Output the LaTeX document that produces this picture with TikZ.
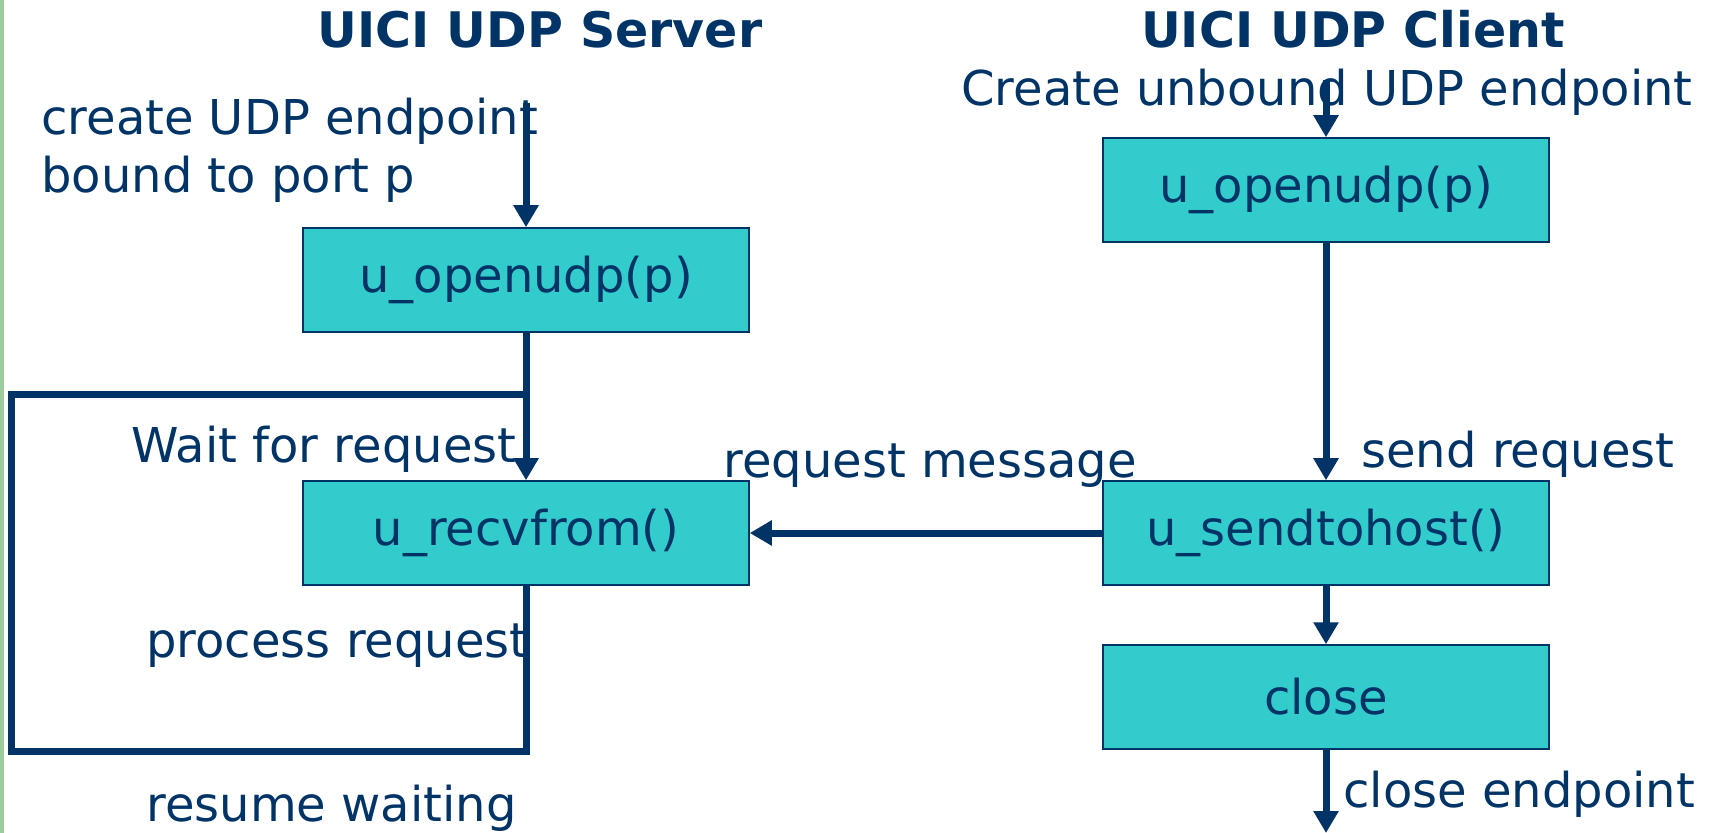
\documentclass[tikz,border=0pt]{standalone}
\usepackage{fontspec}
\setmainfont{DejaVu Sans}
\usetikzlibrary{arrows.meta}

\definecolor{navy}{HTML}{003366}
\definecolor{turq}{HTML}{33CCCC}
\definecolor{slidegreen}{HTML}{9CCC9C}

\tikzset{
  callbox/.style={draw=navy, line width=0.75pt, fill=turq, text=navy,
    minimum width=223pt, minimum height=52pt, inner sep=0pt,
    font=\fontsize{24}{29}\selectfont},
  lbl/.style={text=navy, inner sep=0pt, anchor=base west,
    font=\fontsize{24}{29}\selectfont},
  heading/.style={text=navy, inner sep=0pt, anchor=base,
    font=\fontsize{24.5}{29}\selectfont\bfseries},
  flow/.style={draw=navy, line width=3.5pt,
    -{Triangle[length=11pt,width=12pt]}},
  loopline/.style={draw=navy, line width=3.5pt, line join=miter}
}

\begin{document}
\begin{tikzpicture}[x=0.5pt,y=-0.5pt]
   \useasboundingbox (0,0) rectangle (1711,833);
   \fill[slidegreen] (0,0) rectangle (4,833);

   % server side
   \node[heading] (stitle) at (540,48) {UICI UDP Server};
   \node[lbl, align=left] (screate) at (41,193)
   {create UDP endpoint\\bound to port p};
   \node[callbox] (sopen) at (526,280) {u\_openudp(p)};
   \node[callbox] (srecv) at (526,533) {u\_recvfrom()};
   \node[lbl] (swait) at (131,463) {Wait for request};
   \node[lbl] (sproc) at (146,657) {process request};
   \node[lbl] (sresume) at (146,821) {resume waiting};

   \coordinate (sin) at (526,103);
   \draw[flow] (sin) -- (sopen);
   \draw[flow] (sopen) -- (srecv);
   \draw[loopline] (srecv.south) -- (526,751) -- (11,751)
   -- (11,395) -- (529,395);

   % client side
   \node[heading] (ctitle) at (1353,48) {UICI UDP Client};
   \node[lbl] (ccreate) at (961,106) {Create unbound UDP endpoint};
   \node[callbox] (copen) at (1326,190) {u\_openudp(p)};
   \node[callbox] (csend) at (1326,533) {u\_sendtohost()};
   \node[callbox] (cclose) at (1326,697) {close};
   \node[lbl] (csendlbl) at (1361,467) {send request};
   \node[lbl] (cclosed) at (1343,807) {close endpoint};

   \coordinate (cin) at (1326,80);
   \coordinate (cend) at (1326,833);
   \draw[flow] (cin) -- (copen);
   \draw[flow] (copen) -- (csend);
   \draw[flow] (csend) -- (cclose);
   \draw[flow] (cclose) -- (cend);

   % message between them
   \node[lbl] (msg) at (723,478) {request message};
   \draw[flow] (csend) -- (srecv);
\end{tikzpicture}
\end{document}
